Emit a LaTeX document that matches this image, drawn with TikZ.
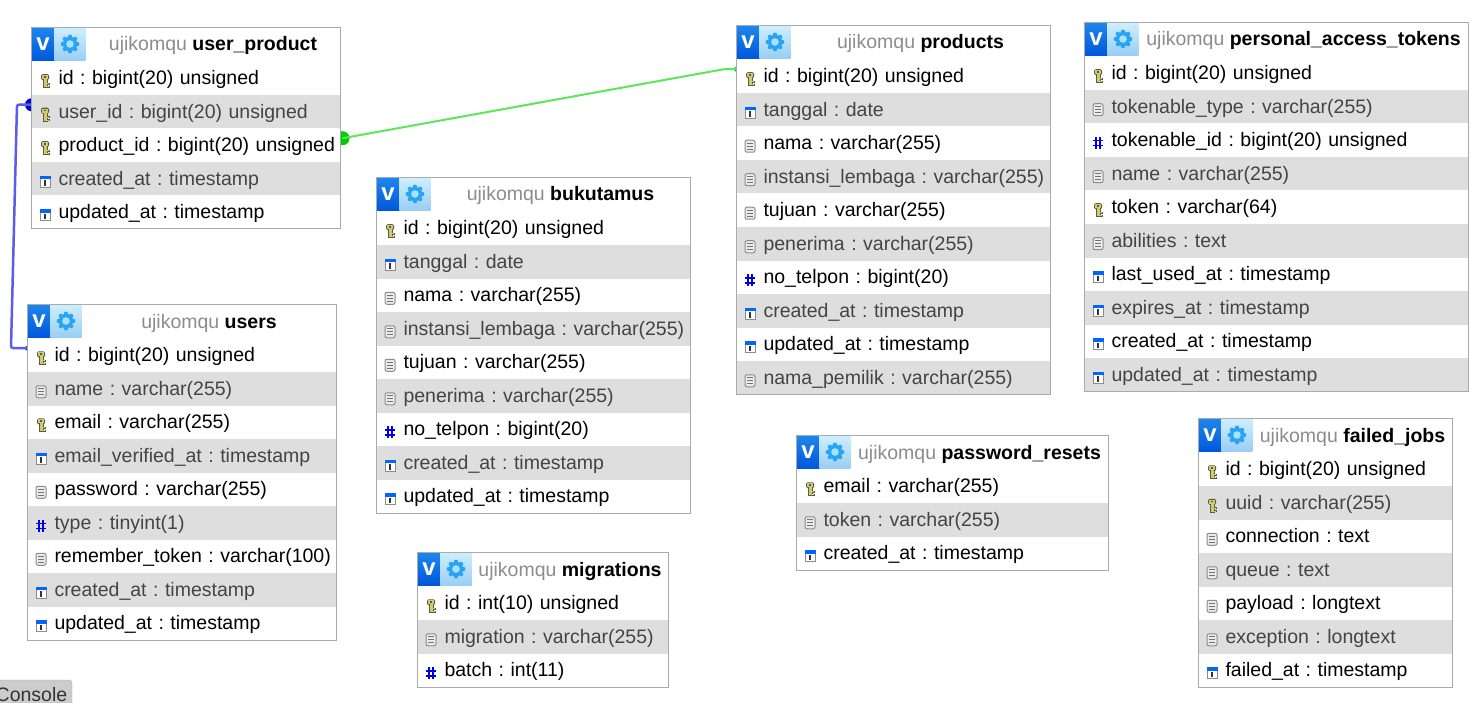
\documentclass[tikz,border=0pt]{standalone}
\usepackage{fontspec}
\setmainfont{Liberation Sans}
\pgfdeclarelayer{background}
\pgfsetlayers{background,main}
\definecolor{rowgray}{HTML}{DEDEDE}
\definecolor{framegray}{HTML}{AAAAAA}
\definecolor{schemagray}{HTML}{8C8C8C}
\definecolor{evenink}{HTML}{444444}
\definecolor{gearblue}{HTML}{2AA3F5}
\definecolor{linkblue}{HTML}{5C5CE8}
\definecolor{linkgreen}{HTML}{58E858}
\definecolor{logotop}{HTML}{1E86EE}
\definecolor{logobottom}{HTML}{0057DC}
\definecolor{geartop}{HTML}{CFEFFD}
\definecolor{gearbottom}{HTML}{99CDF5}
\definecolor{keydark}{HTML}{5A5A50}
\definecolor{keyyellow}{HTML}{D2C968}
\tikzset{
  dbfont/.style = {font=\fontsize{19.5}{24}\selectfont},
  dbframe/.style = {rectangle, draw=framegray, line width=1pt, anchor=north west, inner sep=0pt, outer sep=0pt},
  dbrow/.style = {rectangle, anchor=north west, inner sep=0pt, outer sep=0pt, minimum height=33.5pt,
    align=left, text height=16pt, text depth=3pt, dbfont},
  dbhead/.style = {rectangle, anchor=north east, inner sep=0pt, outer sep=0pt, minimum height=34pt,
    text height=16pt, text depth=3pt, dbfont},
  logobox/.style = {rectangle, anchor=north west, inner sep=0pt, outer sep=0pt, minimum width=23pt, minimum height=33pt,
    top color=logotop, bottom color=logobottom, text=white,
    font=\fontsize{24}{24}\bfseries\selectfont},
  gearbox/.style = {rectangle, anchor=north west, inner sep=0pt, outer sep=0pt, minimum width=31pt, minimum height=33pt,
    top color=geartop, bottom color=gearbottom,
    path picture={\begin{scope}[shift={(path picture bounding box.center)}]
      \fill[gearblue] (0,0) circle (7.2);
      \foreach \a in {0,45,...,315} \fill[gearblue] (\a:7.2) circle (2.2);
      \fill[cyan!35] (0,0) circle (3.8);
    \end{scope}}},
  iconbox/.style = {rectangle, inner sep=0pt, outer sep=0pt, minimum width=14pt, minimum height=16pt},
  keyicon/.style = {iconbox, path picture={\begin{scope}[shift={(path picture bounding box.center)}]
      \fill[keydark, rounded corners=1.5pt] (-4,-7) rectangle (4,-1);
      \fill[keydark] (-2.5,-2) rectangle (2.5,7);
      \fill[keydark] (2.5,1.5) rectangle (4.5,3.5);
      \fill[keydark] (2.5,4.5) rectangle (4.5,6.5);
      \fill[keyyellow] (-3,-6) rectangle (3,-2);
      \fill[keyyellow] (-1.5,-2) rectangle (1.5,6);
      \fill[keyyellow] (1.5,2) rectangle (3.5,3);
      \fill[keyyellow] (1.5,5) rectangle (3.5,6);
      \fill[keydark] (-1,-5) rectangle (1,-3.5);
    \end{scope}}},
  dateicon/.style = {iconbox, path picture={\begin{scope}[shift={(path picture bounding box.center)}]
      \fill[black!45] (-5.5,-6) rectangle (5.5,6);
      \fill[white] (-4.5,-5) rectangle (4.5,5);
      \fill[blue!60!cyan] (-5.5,-6) rectangle (5.5,-2.5);
      \fill[black!80] (-1,-1.5) rectangle (1,4);
    \end{scope}}},
  texticon/.style = {iconbox, path picture={\begin{scope}[shift={(path picture bounding box.center)}]
      \draw[black!45, fill=black!8, line width=1pt, rounded corners=2pt] (-5,-6) rectangle (5,6);
      \foreach \ty in {-3,0,3} \draw[black!55, line width=1pt] (-3,\ty) -- (3,\ty);
    \end{scope}}},
  numicon/.style = {iconbox, path picture={\begin{scope}[shift={(path picture bounding box.center)}]
      \draw[blue!90!black, line width=1.5pt] (-2,-6) -- (-2,6) (2,-6) -- (2,6) (-5,-2.5) -- (5,-2.5) (-5,2.5) -- (5,2.5);
    \end{scope}}},
  linkdot/.style = {circle, inner sep=0pt},
  bluelink/.style = {draw=linkblue, line width=2.5pt, rounded corners=2pt},
  greenlink/.style = {draw=linkgreen, line width=2pt, rounded corners=2pt}
}
% name, left, top, width, number of rows, title, rows
\newcommand{\dbtable}[7]{
  \node[dbframe, fill=white, minimum width=#4pt, minimum height={34pt+33.5pt*#5}] (#1) at (#2,#3) {};
  \foreach \kind/\field [count=\i] in {#7} {
    \ifodd\i \def\rowfill{white}\def\rowink{black}\else \def\rowfill{rowgray}\def\rowink{evenink}\fi
    \node[dbrow, fill=\rowfill, text=\rowink, minimum width=#4pt, text width=#4pt] (#1-\i) at (#2,{#3+34+33.5*(\i-1)}) {\hspace*{27pt}\mbox{\field}};
    \node[\kind, xshift=13.5pt, yshift=-3pt] (#1-\i-icon) at (#1-\i.west) {};
  }
  \node[logobox] (#1-logo) at (#2,#3) {v};
  \node[gearbox] (#1-gear) at (#1-logo.north east) {};
  \node[dbhead, minimum width={#4pt-54pt}] (#1-head) at (#1.north east) {\textcolor{schemagray}{ujikomqu} \textbf{#6}};
  \node[dbframe, minimum width=#4pt, minimum height={34pt+33.5pt*#5}] at (#2,#3) {};
}
\frenchspacing
\begin{document}
\begin{tikzpicture}[x=1pt, y=-1pt]
  \useasboundingbox (0,0) rectangle (1479,703);

  \dbtable{userproduct}{31.5}{27.5}{309}{5}{user\_product}{
    keyicon/id : bigint(20) unsigned,
    keyicon/user\_id : bigint(20) unsigned,
    keyicon/product\_id : bigint(20) unsigned,
    dateicon/created\_at : timestamp,
    dateicon/updated\_at : timestamp}
  \dbtable{users}{27.5}{304.5}{309}{9}{users}{
    keyicon/id : bigint(20) unsigned,
    texticon/name : varchar(255),
    keyicon/email : varchar(255),
    dateicon/email\_verified\_at : timestamp,
    texticon/password : varchar(255),
    numicon/type : tinyint(1),
    texticon/remember\_token : varchar(100),
    dateicon/created\_at : timestamp,
    dateicon/updated\_at : timestamp}
  \dbtable{bukutamus}{376.5}{177.5}{314}{9}{bukutamus}{
    keyicon/id : bigint(20) unsigned,
    dateicon/tanggal : date,
    texticon/nama : varchar(255),
    texticon/instansi\_lembaga : varchar(255),
    texticon/tujuan : varchar(255),
    texticon/penerima : varchar(255),
    numicon/no\_telpon : bigint(20),
    dateicon/created\_at : timestamp,
    dateicon/updated\_at : timestamp}
  \dbtable{migrations}{417.5}{552.5}{251}{3}{migrations}{
    keyicon/id : int(10) unsigned,
    texticon/migration : varchar(255),
    numicon/batch : int(11)}
  \dbtable{products}{736.5}{25.5}{314}{10}{products}{
    keyicon/id : bigint(20) unsigned,
    dateicon/tanggal : date,
    texticon/nama : varchar(255),
    texticon/instansi\_lembaga : varchar(255),
    texticon/tujuan : varchar(255),
    texticon/penerima : varchar(255),
    numicon/no\_telpon : bigint(20),
    dateicon/created\_at : timestamp,
    dateicon/updated\_at : timestamp,
    texticon/nama\_pemilik : varchar(255)}
  \dbtable{tokens}{1084.5}{22.5}{384}{10}{personal\_access\_tokens}{
    keyicon/id : bigint(20) unsigned,
    texticon/tokenable\_type : varchar(255),
    numicon/tokenable\_id : bigint(20) unsigned,
    texticon/name : varchar(255),
    keyicon/token : varchar(64),
    texticon/abilities : text,
    dateicon/last\_used\_at : timestamp,
    dateicon/expires\_at : timestamp,
    dateicon/created\_at : timestamp,
    dateicon/updated\_at : timestamp}
  \dbtable{resets}{796.5}{435.5}{312}{3}{password\_resets}{
    keyicon/email : varchar(255),
    texticon/token : varchar(255),
    dateicon/created\_at : timestamp}
  \dbtable{failedjobs}{1198.5}{418.5}{254}{7}{failed\_jobs}{
    keyicon/id : bigint(20) unsigned,
    keyicon/uuid : varchar(255),
    texticon/connection : text,
    texticon/queue : text,
    texticon/payload : longtext,
    texticon/exception : longtext,
    dateicon/failed\_at : timestamp}

  \node[rectangle, draw=black!35, fill=black!20, text=black!80, rounded corners=3pt, anchor=north west, outer sep=0pt,
    inner sep=0pt, minimum width=81pt, minimum height=30pt, dbfont] (console) at (-9,680) {Console};

  \begin{pgfonlayer}{background}
    \node[linkdot, fill=blue!85!black, minimum size=13pt] (bluestart) at ([yshift=7pt]userproduct-2.west) {};
    \node[linkdot, fill=blue!85!black, minimum size=5pt] (blueend) at ([yshift=7pt]users-1.west) {};
    \node[linkdot, fill=green!80!black, minimum size=14pt] (greenstart) at ([yshift=7pt, xshift=2pt]userproduct-3.east) {};
    \node[linkdot, fill=green!70!black, minimum size=5pt] (greenend) at ([yshift=7pt]products-1.west) {};
    \draw[bluelink] (bluestart.center) -- (17,104.7) -- (11,348) -- (blueend.center);
    \draw[greenlink] (greenstart.center) -- (725,69) -- (greenend.center);
  \end{pgfonlayer}
\end{tikzpicture}
\end{document}
